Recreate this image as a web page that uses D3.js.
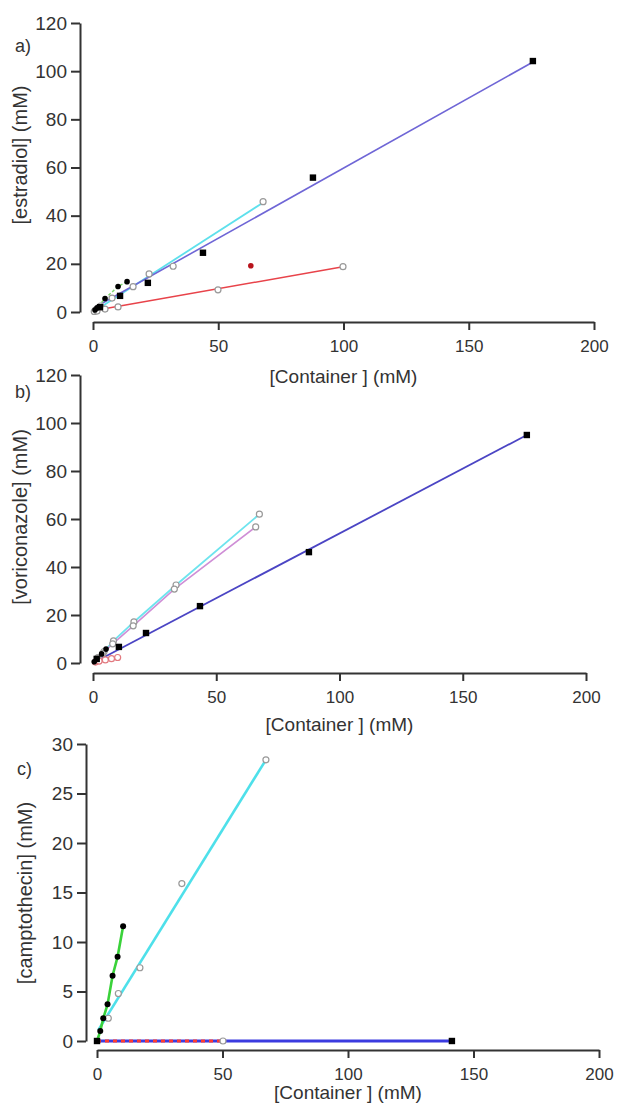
<!DOCTYPE html>
<html>
<head>
<meta charset="utf-8">
<script src="https://cdn.jsdelivr.net/npm/d3@7"></script>
<style>
  body { margin: 0; background: #fff; }
  text { font-family: "Liberation Sans", Arial, sans-serif; fill: #333; }
</style>
</head>
<body>
<div id="chart"></div>
<script>
// ---- data ----
const xTicks = [0, 50, 100, 150, 200];
const yTicksAB = [0, 20, 40, 60, 80, 100, 120];
const yTicksC = [0, 5, 10, 15, 20, 25, 30];

// a) estradiol
const aSquareX = [2.8, 10.8, 21.9, 43.9, 87.8, 175.6];
const aSquareY = [2.0, 6.7, 12.1, 24.6, 55.8, 104.2];
const aBlueFitX = [1, 176];
const aBlueFitY = [2.1, 104];
const aCyanX = [1, 3, 7.6, 16, 22.4, 32, 67.9];
const aCyanY = [0.8, 2.5, 5.8, 10.5, 15.8, 19, 45.8];
const aCyanFitX = [0.5, 68];
const aCyanFitY = [0.3, 45.5];
const aRedX = [0.5, 1.6, 4.8, 10, 49.9, 99.8];
const aRedY = [0.2, 0.4, 1.2, 2.1, 9.2, 18.8];
const aRedFitX = [0, 99.8];
const aRedFitY = [0.5, 18.8];
const aOutlierX = [63];
const aOutlierY = [19.2];
const aDotX = [0.8, 1.6, 4.8, 10, 13.6];
const aDotY = [0.8, 1.7, 5.6, 10.6, 12.6];

// b) voriconazole
const bSquareX = [1.5, 10.5, 21.5, 43.4, 87.6, 176];
const bSquareY = [1.7, 6.7, 12.5, 23.7, 46.2, 95];
const bBlueFitX = [0, 176];
const bBlueFitY = [0, 95];
const bCyanX = [2, 4.5, 8.3, 16.6, 33.7, 67.5];
const bCyanY = [2.2, 4.8, 9.2, 17.1, 32.5, 62];
const bPinkX = [2, 4, 8, 16.3, 33, 66];
const bPinkY = [1.8, 4, 8, 15.5, 30.8, 56.7];
const bRedX = [1, 2.5, 5, 7.5, 10];
const bRedY = [0.4, 0.8, 1.3, 1.8, 2.3];
const bDotX = [0.5, 1.5, 3.5, 5.3];
const bDotY = [0.5, 1.7, 3.8, 5.8];

// c) camptothecin
const cCyanX = [4.5, 8.5, 17.1, 33.8, 67.3];
const cCyanY = [2.3, 4.8, 7.4, 15.9, 28.4];
const cCyanFitX = [0.5, 67.3];
const cCyanFitY = [1.1, 28.4];
const cDotX = [0, 1.3, 2.5, 4.2, 6.2, 8.2, 10.4];
const cDotY = [0, 1.0, 2.3, 3.7, 6.6, 8.5, 11.6];
const cSquareX = [0, 141.4];
const cSquareY = [0, 0];
const cRedX = [0, 50.2];
const cRedY = [0, 0];

const svg = d3.select('#chart').append('svg')
  .attr('width', 619).attr('height', 1112);

function drawPanel(p) {
  const x = d3.scaleLinear().domain([0, 200]).range(p.xRange);
  const y = d3.scaleLinear().domain(p.yDomain).range(p.yRange);
  const g = svg.append('g');

  // axes
  const xa = g.append('g')
    .attr('transform', `translate(0, ${p.xAxisY})`)
    .call(d3.axisBottom(x).tickValues(xTicks).tickSize(8).tickSizeOuter(0).tickPadding(10));
  const ya = g.append('g')
    .attr('transform', `translate(${p.yAxisX}, 0)`)
    .call(d3.axisLeft(y).tickValues(p.yTicks).tickSize(9).tickSizeOuter(0).tickPadding(4));
  [xa, ya].forEach(a => {
    a.selectAll('path, line').attr('stroke', '#333').attr('stroke-width', 2);
    a.selectAll('text').attr('fill', '#333').style('font-family', '"Liberation Sans", Arial, sans-serif');
  });
  xa.selectAll('text').style('font-size', '17px');
  ya.selectAll('text').style('font-size', '19px');

  // titles
  g.append('text')
    .attr('x', (p.xRange[0] + p.xRange[1]) / 2).attr('y', p.xTitleY)
    .attr('text-anchor', 'middle').attr('dominant-baseline', 'middle')
    .style('font-size', '19px')
    .text('[Container ] (mM)');
  g.append('text')
    .attr('transform', `translate(${p.yTitleX}, ${p.yTitleY}) rotate(-90)`)
    .attr('text-anchor', 'middle').attr('dominant-baseline', 'middle')
    .style('font-size', '20px')
    .text(p.yTitle);
  g.append('text')
    .attr('x', p.labelX).attr('y', p.labelY)
    .style('font-size', '18px')
    .text(p.label);

  const line = d3.line().x(d => x(d[0])).y(d => y(d[1]));

  // lines
  p.lines.forEach(l => {
    g.append('path')
      .datum(d3.zip(l.xs, l.ys))
      .attr('d', line)
      .attr('fill', 'none')
      .attr('stroke', l.color)
      .attr('stroke-width', l.width)
      .attr('stroke-dasharray', l.dash || null);
  });

  // markers
  p.marks.forEach(m => {
    const pts = d3.zip(m.xs, m.ys);
    if (m.type === 'square') {
      g.selectAll(null).data(pts).enter().append('rect')
        .attr('x', d => x(d[0]) - 3.2).attr('y', d => y(d[1]) - 3.2)
        .attr('width', 6.4).attr('height', 6.4)
        .attr('fill', '#000');
    } else if (m.type === 'open') {
      g.selectAll(null).data(pts).enter().append('circle')
        .attr('cx', d => x(d[0])).attr('cy', d => y(d[1])).attr('r', 3)
        .attr('fill', '#fff').attr('stroke', m.color || '#999').attr('stroke-width', 1.2);
    } else {
      g.selectAll(null).data(pts).enter().append('circle')
        .attr('cx', d => x(d[0])).attr('cy', d => y(d[1])).attr('r', m.r || 2.8)
        .attr('fill', m.color || '#000');
    }
  });
}

drawPanel({
  xRange: [93, 594], yDomain: [0, 120], yRange: [312, 23], yTicks: yTicksAB,
  xAxisY: 322, yAxisX: 80, xTitleY: 378, yTitleX: 22, yTitleY: 155,
  yTitle: '[estradiol] (mM)', label: 'a)', labelX: 15, labelY: 52,
  lines: [
    { xs: aRedFitX, ys: aRedFitY, color: '#e8434a', width: 1.5 },
    { xs: aCyanFitX, ys: aCyanFitY, color: '#5ee0ec', width: 1.8 },
    { xs: aBlueFitX, ys: aBlueFitY, color: '#6f66d6', width: 1.6 },
    { xs: aDotX, ys: aDotY, color: '#7fd86f', width: 1.5, dash: '3,2' }
  ],
  marks: [
    { type: 'open', xs: aCyanX, ys: aCyanY },
    { type: 'open', xs: aRedX, ys: aRedY },
    { type: 'dot', xs: aOutlierX, ys: aOutlierY, color: '#b8141c' },
    { type: 'dot', xs: aDotX, ys: aDotY },
    { type: 'square', xs: aSquareX, ys: aSquareY }
  ]
});

drawPanel({
  xRange: [93, 586], yDomain: [0, 120], yRange: [663, 375], yTicks: yTicksAB,
  xAxisY: 673, yAxisX: 80, xTitleY: 726, yTitleX: 22, yTitleY: 517,
  yTitle: '[voriconazole] (mM)', label: 'b)', labelX: 15, labelY: 398,
  lines: [
    { xs: bRedX, ys: bRedY, color: '#e8434a', width: 1.5, dash: '3,2' },
    { xs: bDotX, ys: bDotY, color: '#7fd86f', width: 1.5 },
    { xs: bCyanX, ys: bCyanY, color: '#6ee4ee', width: 1.8 },
    { xs: bPinkX, ys: bPinkY, color: '#cf8ed6', width: 1.6 },
    { xs: bBlueFitX, ys: bBlueFitY, color: '#4b45c4', width: 1.8 }
  ],
  marks: [
    { type: 'open', xs: bCyanX, ys: bCyanY },
    { type: 'open', xs: bPinkX, ys: bPinkY },
    { type: 'open', xs: bRedX, ys: bRedY, color: '#e27a80' },
    { type: 'dot', xs: bDotX, ys: bDotY },
    { type: 'square', xs: bSquareX, ys: bSquareY }
  ]
});

drawPanel({
  xRange: [97, 599], yDomain: [0, 30], yRange: [1041, 744], yTicks: yTicksC,
  xAxisY: 1050, yAxisX: 86, xTitleY: 1094, yTitleX: 27, yTitleY: 893,
  yTitle: '[camptothecin] (mM)', label: 'c)', labelX: 17, labelY: 775,
  lines: [
    { xs: cSquareX, ys: cSquareY, color: '#3b3be0', width: 2.8 },
    { xs: cRedX, ys: cRedY, color: '#ff3b2f', width: 2.8, dash: '4,4' },
    { xs: cCyanFitX, ys: cCyanFitY, color: '#4ee0ea', width: 2.6 },
    { xs: cDotX, ys: cDotY, color: '#3ad23a', width: 2.6 }
  ],
  marks: [
    { type: 'open', xs: cCyanX, ys: cCyanY },
    { type: 'open', xs: cRedX.slice(1), ys: cRedY.slice(1) },
    { type: 'dot', xs: cDotX, ys: cDotY, r: 3 },
    { type: 'square', xs: cSquareX, ys: cSquareY }
  ]
});
</script>
</body>
</html>
